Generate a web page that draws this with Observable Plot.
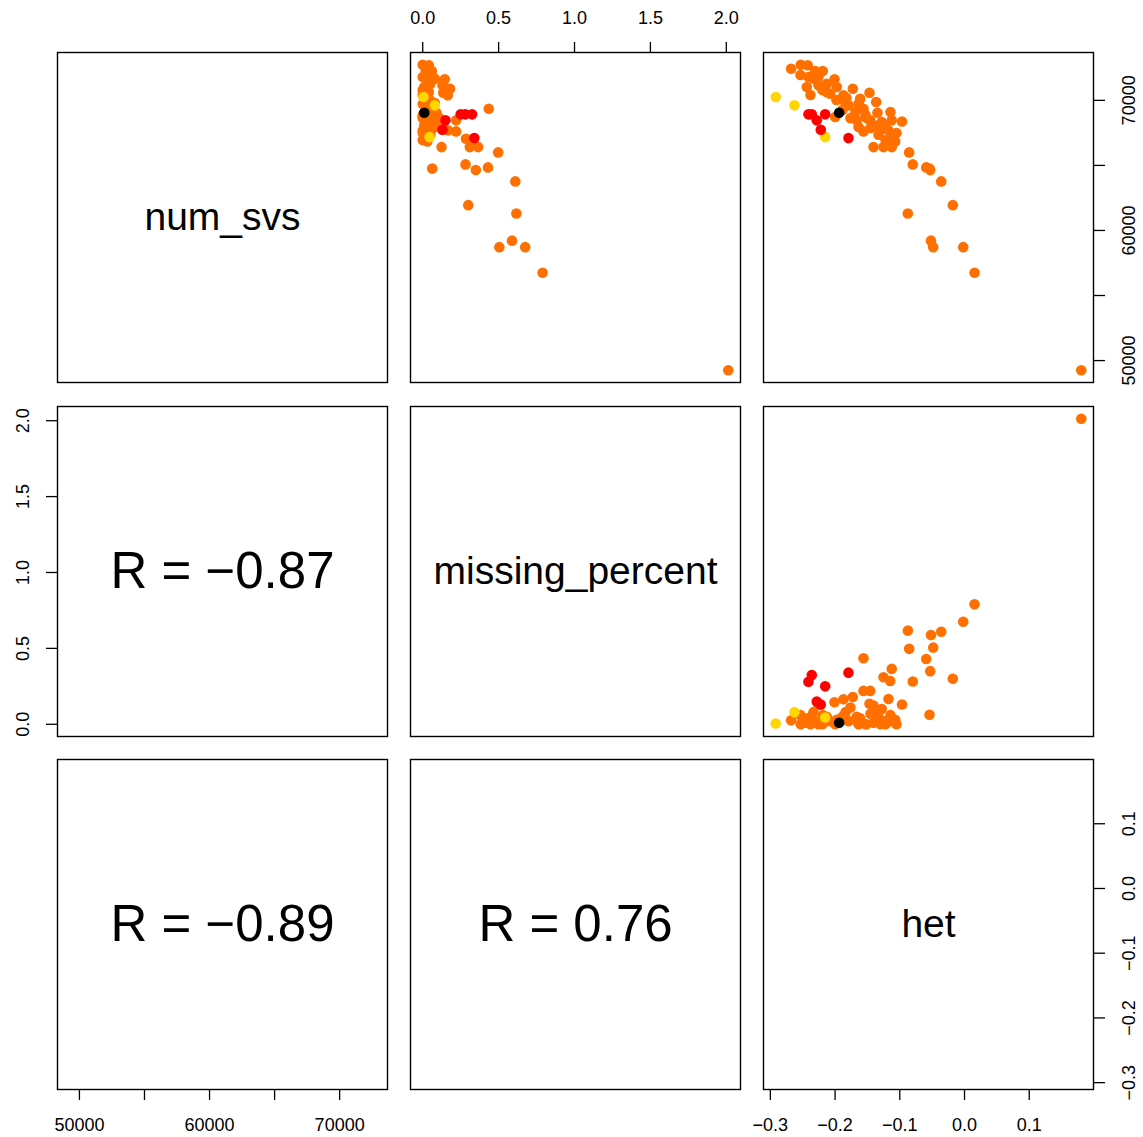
<!DOCTYPE html>
<html><head><meta charset="utf-8">
<script src="https://cdn.jsdelivr.net/npm/d3@7"></script>
<script src="https://cdn.jsdelivr.net/npm/@observablehq/plot@0.6"></script>
<style>
body{margin:0;background:#fff;}
#root{position:relative;width:1143px;height:1137px;font-family:"Liberation Sans",Arial,Helvetica,sans-serif;}
#root svg{position:absolute;}
</style></head><body><div id="root"></div>
<script>
// ---------------- data ----------------
const varNames = ["num_svs", "missing_percent", "het"];
const groupNames = ["orange", "yellow", "red", "black"];
const groupColors = ["#FF7000", "#FFD700", "#FF0000", "#000000"];

const numSvs = [
  49254, 56754, 58716, 61946, 63769, 58716, 59216, 64754, 64638, 64846, 65077, 66000, 61308, 68369,
  72431, 72738, 72692, 72254, 72254, 71792, 71662, 71615, 71023, 71154, 71277, 71023, 70892, 70585,
  70508, 70385, 70123, 69869, 69615, 69354, 69046, 68462, 68462, 68331, 68462, 67615, 67354, 67692,
  67046, 66846, 66408, 66408, 66408, 68715,
  71792, 70638, 70023, 69792, 69100, 68869, 68631, 69254, 67946, 67869, 66946, 71946, 70408, 67692,
  68638, 67946, 67485, 69715, 70177, 70792, 69100, 68100,
  70254, 69615, 67177,
  68923, 68923, 68923, 68462, 67739, 67100,
  69046
];
const missingPercent = [
  2.013, 0.79, 0.675, 0.30, 0.61, 0.505, 0.588, 0.063, 0.35, 0.43, 0.282, 0.497, 0.617, 0.13,
  0.026, 0.00, 0.04, 0.02, 0.06, 0.03, 0.08, 0.145, 0.01, 0.13, 0.05, 0.03, 0.18, 0.135,
  0.02, 0.165, 0.04, 0.06, 0.02, 0.435, 0.09, 0.05, 0.22, 0.10, 0.02, 0.22, 0.05, 0.167,
  0.285, 0.03, 0.124, 0.31, 0.365, 0.00,
  0.00, 0.04, 0.01, 0.08, 0.03, 0.00, 0.11, 0.05, 0.02, 0.07, 0.00, 0.06, 0.00, 0.00,
  0.00, 0.02, 0.00, 0.00, 0.03, 0.00, 0.06, 0.01,
  0.005, 0.08, 0.045,
  0.28, 0.325, 0.25, 0.15, 0.13, 0.34,
  0.01
];
const het = [
  0.1804, 0.0155, -0.0020, -0.0181, -0.0360, -0.0484, -0.0518, -0.0541, -0.0530, -0.0592, -0.0799, -0.0855, -0.0876, -0.0966,
  -0.2679, -0.2530, -0.2422, -0.2308, -0.2190, -0.2411, -0.2334, -0.2009, -0.2437, -0.2257, -0.2128, -0.1974, -0.1726, -0.1468,
  -0.2076, -0.1870, -0.1612, -0.1365, -0.1793, -0.1561, -0.1345, -0.1665, -0.1457, -0.1278, -0.1124, -0.1561, -0.1329, -0.1175,
  -0.1148, -0.1071, -0.1406, -0.1252, -0.1124, -0.1998,
  -0.2257, -0.2133, -0.1978, -0.1839, -0.1685, -0.1530, -0.1762, -0.1886, -0.1638, -0.1453, -0.1221, -0.2535, -0.2380, -0.1298,
  -0.1515, -0.1236, -0.1051, -0.1638, -0.1824, -0.2195, -0.1144, -0.1406,
  -0.2917, -0.2628, -0.2153,
  -0.2411, -0.2360, -0.2153, -0.2283, -0.2221, -0.1793,
  -0.1937
];
const group = [
  ...Array(70).fill(0),
  1, 1, 1,
  2, 2, 2, 2, 2, 2,
  3
];
const corrLabels = ["R = \u22120.87", "R = \u22120.89", "R = 0.76"]; // (row2,col1), (row3,col1), (row3,col2)

const nsTicks = [50000, 55000, 60000, 65000, 70000];
const nsLabelTicks = [50000, 60000, 70000];
const missTicks = [0, 0.5, 1, 1.5, 2];
const hetTicks = [-0.3, -0.2, -0.1, 0, 0.1];

// ---------------- build ----------------
const rows = numSvs.map((v, k) => ({ns: v, miss: missingPercent[k], het: het[k], g: group[k]}));
const keys = ["ns", "miss", "het"];
const ticksFor = {ns: nsTicks, miss: missTicks, het: hetTicks};
const labelTicksFor = {ns: nsLabelTicks, miss: missTicks, het: hetTicks};
const fmtFor = {
  ns: d => (d % 10000 === 0 ? String(d) : ""),
  miss: d3.format(".1f"),
  het: d3.format(".1f")
};
function padded(key) {
  const e = d3.extent(rows, r => r[key]);
  const p = (e[1] - e[0]) * 0.04;
  return [e[0] - p, e[1] + p];
}
const domains = {ns: padded("ns"), miss: padded("miss"), het: padded("het")};

const S = 330, MT = 50, MB = 45, ML = 50, MR = 50;
const X0 = [57, 410, 763], Y0 = [52, 406, 759];
const TICK = 11, PAD = 18, FS = 18;
const font = '"Liberation Sans", Arial, Helvetica, sans-serif';
const root = document.getElementById("root");

// axis placement like R pairs()
function axesFor(i, j) {
  const a = [];
  if (i === 0 && j % 2 === 1) a.push("top");
  if (i === 2 && j % 2 === 0) a.push("bottom");
  if (j === 2 && i % 2 === 0) a.push("right");
  if (j === 0 && i % 2 === 1) a.push("left");
  return a;
}

function panel(i, j) {
  const xk = keys[j], yk = keys[i];
  const marks = [Plot.frame({stroke: "black", strokeWidth: 1.4})];
  if (i < j) {
    const ordered = [...rows].sort((a, b) => a.g - b.g);
    marks.push(Plot.dot(ordered, {x: xk, y: yk, r: 5.3, fill: d => groupColors[d.g], stroke: "none"}));
  } else if (i === j) {
    marks.push(Plot.text([varNames[i]], {frameAnchor: "middle", fontSize: 39, fill: "black", fontFamily: font}));
  } else {
    const idx = i === 1 ? 0 : (j === 0 ? 1 : 2);
    marks.push(Plot.text([corrLabels[idx]], {frameAnchor: "middle", fontSize: 51, fill: "black", fontFamily: font}));
  }
  for (const side of axesFor(i, j)) {
    if (side === "top" || side === "bottom") {
      marks.push(Plot.axisX(ticksFor[xk], {
        anchor: side, label: null, tickSize: TICK, tickPadding: PAD, tickFormat: fmtFor[xk],
        fontSize: FS, stroke: "black", strokeWidth: 1.3, fill: "black", fontFamily: font
      }));
    } else {
      marks.push(Plot.axisY(ticksFor[yk], {
        anchor: side, label: null, tickSize: TICK, tickFormat: () => "", stroke: "black", strokeWidth: 1.3
      }));
      marks.push(Plot.text(labelTicksFor[yk], {
        y: d => d, text: d => d3.format(yk === "ns" ? "d" : ".1f")(d),
        frameAnchor: side, dx: side === "right" ? TICK + PAD : -(TICK + PAD),
        rotate: -90, textAnchor: "middle", lineAnchor: side === "right" ? "top" : "bottom",
        fontSize: FS, fill: "black", fontFamily: font
      }));
    }
  }
  const svg = Plot.plot({
    width: S + ML + MR, height: S + MT + MB,
    marginTop: MT, marginBottom: MB, marginLeft: ML, marginRight: MR,
    style: {background: "transparent", overflow: "visible", fontFamily: font, fontSize: FS + "px"},
    x: {domain: domains[xk], axis: null, label: null},
    y: {domain: domains[yk], axis: null, label: null},
    marks
  });
  svg.style.left = (X0[j] - ML) + "px";
  svg.style.top = (Y0[i] - MT) + "px";
  root.appendChild(svg);
}
for (let i = 0; i < 3; i++) for (let j = 0; j < 3; j++) panel(i, j);
</script></body></html>
